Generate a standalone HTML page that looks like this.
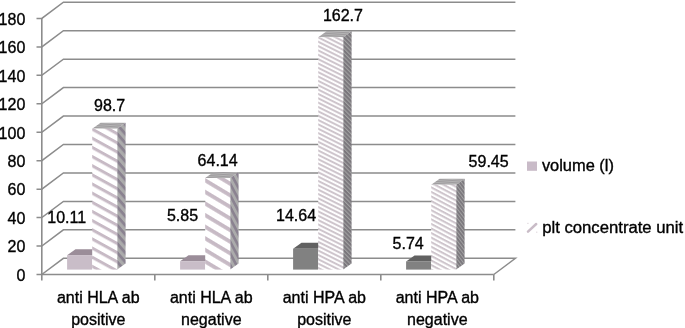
<!DOCTYPE html>
<html><head><meta charset="utf-8"><style>
html,body{margin:0;padding:0;background:#fff;width:685px;height:328px;overflow:hidden}
svg{display:block;will-change:transform}
.t{font-family:"Liberation Sans",sans-serif;font-size:16px;fill:#000;stroke:#000;stroke-width:0.35px}
</style></head><body>
<svg width="685" height="328" viewBox="0 0 685 328">
<defs><pattern id="pf0" patternUnits="userSpaceOnUse" width="10" height="8.017" patternTransform="translate(0 3.512) rotate(28.811)"><rect width="10" height="8.017" fill="#fff"/><rect width="10" height="3.0195000000000003" fill="#c7bac5"/></pattern><pattern id="ps0" patternUnits="userSpaceOnUse" width="10" height="6.004" patternTransform="translate(0 5.961) rotate(48.991)"><rect width="10" height="6.004" fill="#ababab"/><rect width="10" height="2.83" fill="#8a8290"/></pattern><pattern id="pt0" patternUnits="userSpaceOnUse" width="10" height="2.000" patternTransform="rotate(4)"><rect width="10" height="2.000" fill="#b4b4b4"/><rect width="10" height="0.9" fill="#9c989c"/></pattern><pattern id="pf1" patternUnits="userSpaceOnUse" width="10" height="9.947" patternTransform="translate(0 8.568) rotate(30.964)"><rect width="10" height="9.947" fill="#fff"/><rect width="10" height="3.828" fill="#c7bac5"/></pattern><pattern id="ps1" patternUnits="userSpaceOnUse" width="10" height="5.403" patternTransform="translate(0 10.350) rotate(62.241)"><rect width="10" height="5.403" fill="#ababab"/><rect width="10" height="2.60" fill="#8a8290"/></pattern><pattern id="pt1" patternUnits="userSpaceOnUse" width="10" height="2.000" patternTransform="rotate(4)"><rect width="10" height="2.000" fill="#b4b4b4"/><rect width="10" height="0.9" fill="#9c989c"/></pattern><pattern id="pf2" patternUnits="userSpaceOnUse" width="10" height="3.891" patternTransform="translate(0 3.332) rotate(26.565)"><rect width="10" height="3.891" fill="#fff"/><rect width="10" height="2.0" fill="#cec5cc"/></pattern><pattern id="ps2" patternUnits="userSpaceOnUse" width="10" height="3.076" patternTransform="translate(0 1.102) rotate(45.000)"><rect width="10" height="3.076" fill="#a2a2a2"/><rect width="10" height="1.98" fill="#7a767c"/></pattern><pattern id="pt2" patternUnits="userSpaceOnUse" width="10" height="2.000" patternTransform="rotate(4)"><rect width="10" height="2.000" fill="#b4b4b4"/><rect width="10" height="0.9" fill="#9c989c"/></pattern><pattern id="pf3" patternUnits="userSpaceOnUse" width="10" height="4.038" patternTransform="translate(0 3.368) rotate(27.924)"><rect width="10" height="4.038" fill="#fff"/><rect width="10" height="2.0" fill="#cec5cc"/></pattern><pattern id="ps3" patternUnits="userSpaceOnUse" width="10" height="2.786" patternTransform="translate(0 3.701) rotate(52.431)"><rect width="10" height="2.786" fill="#a2a2a2"/><rect width="10" height="1.73" fill="#7a767c"/></pattern><pattern id="pt3" patternUnits="userSpaceOnUse" width="10" height="2.000" patternTransform="rotate(4)"><rect width="10" height="2.000" fill="#b4b4b4"/><rect width="10" height="0.9" fill="#9c989c"/></pattern></defs>
<polyline points="36.5,246.05 41.8,246.05 63.40,229.85 515.40,229.85" fill="none" stroke="#8c8c8c" stroke-width="1.5"/>
<polyline points="36.5,217.60 41.8,217.60 63.40,201.40 515.40,201.40" fill="none" stroke="#8c8c8c" stroke-width="1.5"/>
<polyline points="36.5,189.15 41.8,189.15 63.40,172.95 515.40,172.95" fill="none" stroke="#8c8c8c" stroke-width="1.5"/>
<polyline points="36.5,160.70 41.8,160.70 63.40,144.50 515.40,144.50" fill="none" stroke="#8c8c8c" stroke-width="1.5"/>
<polyline points="36.5,132.25 41.8,132.25 63.40,116.05 515.40,116.05" fill="none" stroke="#8c8c8c" stroke-width="1.5"/>
<polyline points="36.5,103.80 41.8,103.80 63.40,87.60 515.40,87.60" fill="none" stroke="#8c8c8c" stroke-width="1.5"/>
<polyline points="36.5,75.35 41.8,75.35 63.40,59.15 515.40,59.15" fill="none" stroke="#8c8c8c" stroke-width="1.5"/>
<polyline points="36.5,46.90 41.8,46.90 63.40,30.70 515.40,30.70" fill="none" stroke="#8c8c8c" stroke-width="1.5"/>
<polyline points="36.5,18.45 41.8,18.45 63.40,2.25 515.40,2.25" fill="none" stroke="#8c8c8c" stroke-width="1.5"/>
<polyline points="41.8,274.5 63.40,258.30 515.40,258.30 493.8,274.5" fill="none" stroke="#8c8c8c" stroke-width="1.5"/>
<polygon points="67.10,255.16 75.50,249.16 100.60,249.16 92.20,255.16" fill="#9b8d99"/>
<rect x="67.10" y="255.16" width="25.10" height="14.44" fill="#c9bdc8"/>
<polygon points="92.20,128.66 100.60,122.66 125.60,122.66 117.20,128.66" fill="url(#pt0)"/>
<polygon points="117.20,128.66 125.60,122.66 125.60,263.60 117.20,269.60" fill="url(#ps0)"/>
<rect x="92.20" y="128.66" width="25.00" height="140.94" fill="url(#pf0)"/>
<polygon points="180.10,261.25 188.50,255.25 213.60,255.25 205.20,261.25" fill="#9b8d99"/>
<rect x="180.10" y="261.25" width="25.10" height="8.35" fill="#c9bdc8"/>
<polygon points="205.20,178.01 213.60,172.01 238.60,172.01 230.20,178.01" fill="url(#pt1)"/>
<polygon points="230.20,178.01 238.60,172.01 238.60,263.60 230.20,269.60" fill="url(#ps1)"/>
<rect x="205.20" y="178.01" width="25.00" height="91.59" fill="url(#pf1)"/>
<polygon points="293.10,248.69 301.50,242.69 326.60,242.69 318.20,248.69" fill="#616161"/>
<rect x="293.10" y="248.69" width="25.10" height="20.91" fill="#818181"/>
<polygon points="318.20,37.26 326.60,31.26 351.60,31.26 343.20,37.26" fill="url(#pt2)"/>
<polygon points="343.20,37.26 351.60,31.26 351.60,263.60 343.20,269.60" fill="url(#ps2)"/>
<rect x="318.20" y="37.26" width="25.00" height="232.34" fill="url(#pf2)"/>
<polygon points="406.10,261.40 414.50,255.40 439.60,255.40 431.20,261.40" fill="#616161"/>
<rect x="406.10" y="261.40" width="25.10" height="8.20" fill="#818181"/>
<polygon points="431.20,184.71 439.60,178.71 464.60,178.71 456.20,184.71" fill="url(#pt3)"/>
<polygon points="456.20,184.71 464.60,178.71 464.60,263.60 456.20,269.60" fill="url(#ps3)"/>
<rect x="431.20" y="184.71" width="25.00" height="84.89" fill="url(#pf3)"/>
<line x1="36.5" y1="274.5" x2="493.8" y2="274.5" stroke="#8c8c8c" stroke-width="1.6"/>
<line x1="41.8" y1="18" x2="41.8" y2="280.5" stroke="#8c8c8c" stroke-width="1.6"/>
<line x1="154.80" y1="274.5" x2="154.80" y2="280.5" stroke="#8c8c8c" stroke-width="1.6"/>
<line x1="267.80" y1="274.5" x2="267.80" y2="280.5" stroke="#8c8c8c" stroke-width="1.6"/>
<line x1="380.80" y1="274.5" x2="380.80" y2="280.5" stroke="#8c8c8c" stroke-width="1.6"/>
<line x1="493.80" y1="274.5" x2="493.80" y2="280.5" stroke="#8c8c8c" stroke-width="1.6"/>
<text x="25.3" y="280.80" text-anchor="end" class="t">0</text>
<text x="25.3" y="252.35" text-anchor="end" class="t">20</text>
<text x="25.3" y="223.90" text-anchor="end" class="t">40</text>
<text x="25.3" y="195.45" text-anchor="end" class="t">60</text>
<text x="25.3" y="167.00" text-anchor="end" class="t">80</text>
<text x="25.3" y="138.55" text-anchor="end" class="t">100</text>
<text x="25.3" y="110.10" text-anchor="end" class="t">120</text>
<text x="25.3" y="81.65" text-anchor="end" class="t">140</text>
<text x="25.3" y="53.20" text-anchor="end" class="t">160</text>
<text x="25.3" y="24.75" text-anchor="end" class="t">180</text>
<text x="47.3" y="222.5" class="t">10.11</text>
<text x="94.0" y="110.6" class="t">98.7</text>
<text x="166.9" y="221.3" class="t">5.85</text>
<text x="197.6" y="165.6" class="t">64.14</text>
<text x="276.0" y="220.9" class="t">14.64</text>
<text x="322.9" y="20.9" class="t">162.7</text>
<text x="392.6" y="248.9" class="t">5.74</text>
<text x="468.6" y="166.5" class="t">59.45</text>
<text x="98.30" y="302.8" text-anchor="middle" class="t">anti HLA ab</text>
<text x="98.30" y="324.7" text-anchor="middle" class="t">positive</text>
<text x="211.30" y="302.8" text-anchor="middle" class="t">anti HLA ab</text>
<text x="211.30" y="324.7" text-anchor="middle" class="t">negative</text>
<text x="324.30" y="302.8" text-anchor="middle" class="t">anti HPA ab</text>
<text x="324.30" y="324.7" text-anchor="middle" class="t">positive</text>
<text x="437.30" y="302.8" text-anchor="middle" class="t">anti HPA ab</text>
<text x="437.30" y="324.7" text-anchor="middle" class="t">negative</text>
<rect x="527" y="161.5" width="10" height="9.3" fill="#c9bbc8"/>
<text x="541.9" y="170.7" class="t" textLength="72" lengthAdjust="spacingAndGlyphs">volume (l)</text>
<line x1="528" y1="231.6" x2="536.2" y2="224" stroke="#c9bcc7" stroke-width="2.5" stroke-linecap="round"/>
<rect x="527.2" y="222.8" width="1.4" height="1.2" fill="#e4dce2"/><rect x="536" y="231.6" width="1.4" height="1.2" fill="#e4dce2"/>
<text x="542.2" y="233.2" class="t" textLength="141" lengthAdjust="spacingAndGlyphs">plt concentrate unit</text>
</svg>
</body></html>
